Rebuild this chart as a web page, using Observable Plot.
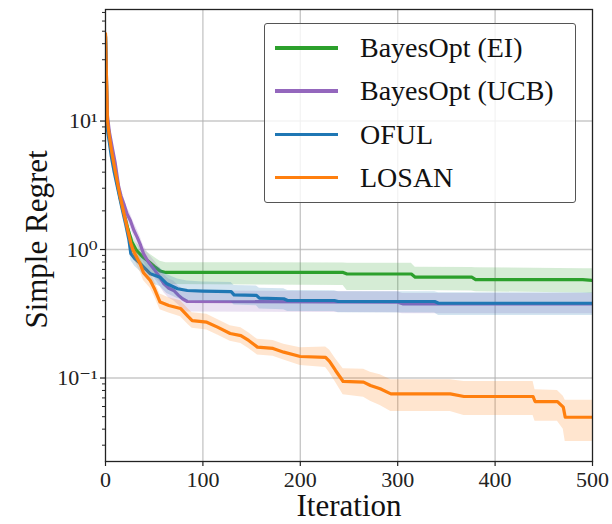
<!DOCTYPE html>
<html>
<head>
<meta charset="utf-8">
<script src="https://cdn.jsdelivr.net/npm/d3@7"></script>
<script src="https://cdn.jsdelivr.net/npm/@observablehq/plot@0.6"></script>
<style>
  html, body { margin: 0; padding: 0; background: #fff; }
  #wrap { position: relative; width: 612px; height: 524px; font-family: "Liberation Serif", "Times New Roman", Tinos, "DejaVu Serif", "Noto Serif", serif; }
  #legend { position: absolute; left: 264px; top: 23px; width: 312px; height: 180px;
            border: 1.5px solid #555; border-radius: 3px; background: rgba(255,255,255,0.8); box-sizing: border-box; }
  .entry { position: absolute; left: 0; height: 0; }
  .swatch { position: absolute; left: 10px; width: 63px; height: 3.5px; top: -2px; }
  .lab { position: absolute; left: 95px; top: -17px; font-size: 28px; color: #111; white-space: nowrap; line-height: 34px; }
</style>
</head>
<body>
<div id="wrap"></div>
<script>
// ---------- data ----------
const seriesNames = ["BayesOpt (EI)", "BayesOpt (UCB)", "OFUL", "LOSAN"];
const seriesColors = ["#2ca02c", "#9467bd", "#1f77b4", "#ff7f0e"];

const xTicks = [0, 100, 200, 300, 400, 500];
const yMajor = [0.1, 1, 10];
const yMinor = [0.03, 0.04, 0.05, 0.06, 0.07, 0.08, 0.09, 0.2, 0.3, 0.4, 0.5, 0.6, 0.7, 0.8, 0.9, 2, 3, 4, 5, 6, 7, 8, 9, 20, 30, 40, 50, 60, 70];
const yMajorLabels = ["10⁻¹", "10⁰", "10¹"];

// BayesOpt (EI)
const eiIter = [0, 1, 2, 4, 6, 8.5, 12, 15, 19, 23, 27, 32, 38, 44, 50, 56, 62, 244, 248, 314, 318, 376, 380, 490, 500];
const eiMean = [46, 20, 10, 7.6, 5.8, 4.5, 3.3, 2.55, 1.9, 1.45, 1.15, 0.98, 0.88, 0.81, 0.74, 0.68, 0.663, 0.663, 0.645, 0.645, 0.609, 0.609, 0.584, 0.584, 0.574];
const eiLo   = [41, 17.8, 8.9, 6.8, 5.2, 4.0, 2.95, 2.28, 1.7, 1.29, 1.02, 0.86, 0.76, 0.69, 0.62, 0.56, 0.535, 0.525, 0.48, 0.48, 0.48, 0.475, 0.47, 0.458, 0.455];
const eiHi   = [51.5, 22.4, 11.2, 8.5, 6.5, 5.0, 3.7, 2.86, 2.13, 1.63, 1.3, 1.12, 1.01, 0.94, 0.87, 0.81, 0.79, 0.785, 0.782, 0.782, 0.728, 0.725, 0.72, 0.71, 0.71];

// BayesOpt (UCB)
const ucbIter = [0, 1, 2, 4, 7, 10, 13.5, 16, 19, 22, 25.5, 29, 32.5, 36, 39, 44, 50, 55, 60, 65, 70, 75, 79, 84, 300, 305, 500];
const ucbMean = [46, 22, 11, 8.2, 6.2, 4.7, 3.1, 2.6, 2.25, 1.9, 1.68, 1.42, 1.25, 1.08, 0.93, 0.8, 0.70, 0.62, 0.541, 0.50, 0.48, 0.44, 0.414, 0.394, 0.389, 0.378, 0.378];
const ucbLo   = [41, 19.6, 9.8, 7.3, 5.5, 4.2, 2.77, 2.32, 2.0, 1.69, 1.49, 1.25, 1.09, 0.94, 0.8, 0.69, 0.6, 0.53, 0.46, 0.42, 0.40, 0.37, 0.345, 0.326, 0.322, 0.316, 0.316];
const ucbHi   = [51.5, 24.6, 12.3, 9.2, 6.95, 5.26, 3.47, 2.91, 2.52, 2.13, 1.9, 1.62, 1.43, 1.24, 1.07, 0.93, 0.82, 0.73, 0.64, 0.59, 0.57, 0.52, 0.495, 0.475, 0.47, 0.455, 0.455];

// OFUL
const ofulIter = [0, 1, 2, 4, 6, 9, 13, 17, 21, 24, 26, 30, 36, 46, 56, 63, 74, 84, 100, 129, 132, 155, 158, 183, 187, 235, 239, 338, 342, 500];
const ofulMean = [45, 12, 8.5, 6.8, 5.3, 4.0, 2.9, 2.1, 1.55, 1.2, 0.93, 0.85, 0.774, 0.647, 0.609, 0.541, 0.495, 0.48, 0.475, 0.47, 0.444, 0.44, 0.418, 0.414, 0.401, 0.401, 0.394, 0.394, 0.382, 0.382];
const ofulLo   = [40, 10.7, 7.6, 6.1, 4.7, 3.55, 2.58, 1.86, 1.37, 1.06, 0.82, 0.74, 0.67, 0.55, 0.515, 0.455, 0.415, 0.40, 0.395, 0.39, 0.37, 0.365, 0.345, 0.34, 0.33, 0.33, 0.322, 0.32, 0.307, 0.307];
const ofulHi   = [50.5, 13.4, 9.5, 7.6, 5.9, 4.5, 3.25, 2.36, 1.75, 1.36, 1.06, 0.97, 0.89, 0.76, 0.72, 0.64, 0.59, 0.57, 0.56, 0.555, 0.525, 0.52, 0.50, 0.495, 0.48, 0.478, 0.47, 0.47, 0.46, 0.46];

// LOSAN
const losanIter = [0, 1, 2, 4, 6, 8.5, 12, 15, 19, 23, 26, 28, 32, 36, 39, 46, 50, 56, 65, 77, 85, 89, 104, 115, 128, 139, 147, 156, 172, 183, 200, 226, 230, 236, 244, 265, 272, 282, 293, 354, 368, 439, 441, 464, 470, 472, 500];
const losanMean = [48, 22, 10, 7.6, 6, 4.7, 3.4, 2.6, 1.9, 1.4, 1.12, 1.0, 0.87, 0.76, 0.66, 0.574, 0.50, 0.39, 0.367, 0.348, 0.30, 0.28, 0.272, 0.249, 0.222, 0.214, 0.196, 0.174, 0.170, 0.159, 0.147, 0.145, 0.135, 0.115, 0.094, 0.0928, 0.0874, 0.0824, 0.0753, 0.0753, 0.0718, 0.0718, 0.0656, 0.0656, 0.0593, 0.0495, 0.0495];
const losanLo   = [43, 19.6, 8.9, 6.8, 5.35, 4.2, 3.04, 2.32, 1.7, 1.25, 1.0, 0.89, 0.76, 0.66, 0.574, 0.50, 0.435, 0.34, 0.32, 0.30, 0.26, 0.244, 0.236, 0.216, 0.193, 0.186, 0.17, 0.151, 0.148, 0.138, 0.125, 0.121, 0.11, 0.093, 0.074, 0.071, 0.066, 0.061, 0.055, 0.055, 0.051, 0.051, 0.046, 0.046, 0.040, 0.032, 0.032];
const losanHi   = [54, 24.6, 11.2, 8.5, 6.7, 5.26, 3.8, 2.91, 2.13, 1.57, 1.25, 1.12, 1.0, 0.87, 0.76, 0.66, 0.575, 0.45, 0.422, 0.40, 0.345, 0.322, 0.313, 0.286, 0.255, 0.246, 0.225, 0.20, 0.196, 0.183, 0.172, 0.174, 0.165, 0.142, 0.118, 0.117, 0.111, 0.106, 0.097, 0.097, 0.094, 0.094, 0.081, 0.080, 0.072, 0.067, 0.067];

// ---------- build tables ----------
function table(iter, mean, lo, hi) {
  return iter.map((t, i) => ({iter: t, mean: mean[i], lo: lo[i], hi: hi[i]}));
}
const series = [
  table(eiIter, eiMean, eiLo, eiHi),
  table(ucbIter, ucbMean, ucbLo, ucbHi),
  table(ofulIter, ofulMean, ofulLo, ofulHi),
  table(losanIter, losanMean, losanLo, losanHi)
];

const seriesMarks = [];
series.forEach((data, k) => {
  seriesMarks.push(Plot.areaY(data, {x: "iter", y1: "lo", y2: "hi", fill: seriesColors[k], fillOpacity: 0.2, clip: true}));
  seriesMarks.push(Plot.line(data, {x: "iter", y: "mean", stroke: seriesColors[k], strokeWidth: 3.2, clip: true}));
});

const FONT = '"Liberation Serif", "Times New Roman", Tinos, "DejaVu Serif", "Noto Serif", serif';

const chart = Plot.plot({
  width: 612,
  height: 524,
  marginLeft: 105,
  marginRight: 20,
  marginTop: 9,
  marginBottom: 63,
  x: {domain: [0, 500]},
  y: {type: "log", domain: [0.0224, 73.8]},
  style: {fontFamily: FONT, background: "white", color: "#222"},
  marks: [
    Plot.gridX(xTicks.filter(d => d > 0 && d < 500), {stroke: "#b0b0b0", strokeOpacity: 0.7, strokeWidth: 1.4}),
    Plot.gridY(yMajor, {stroke: "#b0b0b0", strokeOpacity: 0.7, strokeWidth: 1.4}),
    ...seriesMarks,
    Plot.frame({stroke: "#222", strokeWidth: 1.3}),
    Plot.axisX(xTicks, {tickSize: 5, tickPadding: 5, fontSize: 22, fontFamily: FONT, label: null, color: "#222", strokeWidth: 1.2}),
    Plot.axisY(yMajor, {tickSize: 5, tickPadding: 3, fontSize: 22, fontFamily: FONT, label: null, color: "#222", strokeWidth: 1.2,
      tickFormat: d => yMajorLabels[yMajor.indexOf(d)]}),
    Plot.axisY(yMinor, {tickSize: 3, label: null, color: "#222", strokeWidth: 1, tickFormat: () => ""}),
    Plot.text(["Iteration"], {frameAnchor: "bottom", lineAnchor: "middle", textAnchor: "middle", dy: 45, fontSize: 31, fontFamily: FONT, fill: "#111"}),
    Plot.text(["Simple Regret"], {frameAnchor: "left", lineAnchor: "middle", textAnchor: "middle", dx: -68, dy: 4, rotate: -90, fontSize: 31, fontFamily: FONT, fill: "#111"})
  ]
});

const wrap = document.getElementById("wrap");
wrap.appendChild(chart);

// legend (overlaid inside the axes, upper right)
const legend = document.createElement("div");
legend.id = "legend";
seriesNames.forEach((name, i) => {
  const e = document.createElement("div");
  e.className = "entry";
  e.style.top = (24 + i * 43.3) + "px";
  const sw = document.createElement("div");
  sw.className = "swatch";
  sw.style.background = seriesColors[i];
  const lb = document.createElement("div");
  lb.className = "lab";
  lb.textContent = name;
  e.appendChild(sw);
  e.appendChild(lb);
  legend.appendChild(e);
});
wrap.appendChild(legend);
</script>
</body>
</html>
